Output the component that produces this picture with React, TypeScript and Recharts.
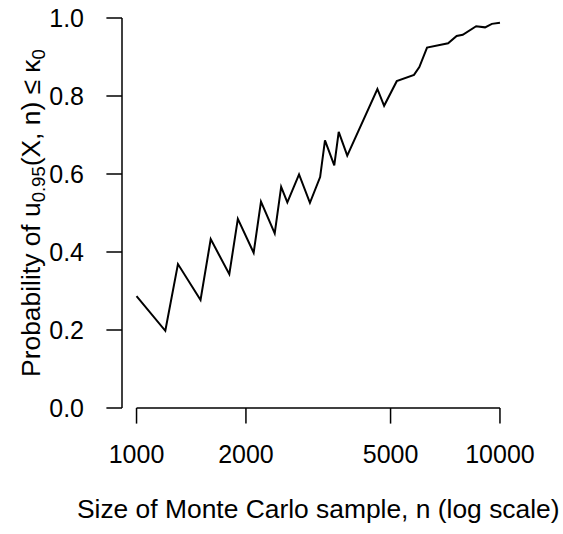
import React from "react";
import {
  LineChart,
  Line,
  XAxis,
  YAxis,
  ReferenceLine,
  Label,
} from "recharts";

// values (vertices of the curve)
const sampleSizes = [
  1000, 1200, 1300, 1500, 1600, 1800, 1900, 2100, 2200, 2400, 2500, 2600,
  2800, 3000, 3200, 3300, 3500, 3600, 3800, 4600, 4800, 5200, 5800, 6000,
  6300, 7200, 7600, 7900, 8600, 9100, 9500, 10000,
];
const probabilities = [
  0.287, 0.198, 0.369, 0.277, 0.433, 0.343, 0.485, 0.398, 0.529, 0.448,
  0.567, 0.527, 0.599, 0.526, 0.592, 0.686, 0.622, 0.708, 0.647, 0.818,
  0.775, 0.838, 0.854, 0.874, 0.924, 0.935, 0.954, 0.957, 0.979, 0.976,
  0.985, 0.988,
];
const xTicks = [1000, 2000, 5000, 10000];
const yTicks = [0, 0.2, 0.4, 0.6, 0.8, 1.0];

const data = sampleSizes.map((n, i) => ({ n, p: probabilities[i] }));

const FONT = "'Liberation Sans', Arial, Helvetica, sans-serif";
const tickStyle = { fill: "#000", fontSize: 25, fontFamily: FONT };
const LAB = 26.4;
const SUB = 18.5;

// R-style y label with subscripts
const YLabel = (props: any) => {
  const vb = props.viewBox || {};
  const cx = 40;
  const cy = vb.y + vb.height / 2;
  return (
    <text
      x={cx}
      y={cy}
      textAnchor="middle"
      fontFamily={FONT}
      fontSize={LAB}
      fill="#000"
      transform={`rotate(-90, ${cx}, ${cy})`}
    >
      Probability of u
      <tspan fontSize={SUB} dy={5}>0.95</tspan>
      <tspan fontSize={LAB} dy={-5}>(X, n) ≤ κ</tspan>
      <tspan fontSize={SUB} dy={5}>0</tspan>
    </text>
  );
};

export default function App() {
  return (
    <div style={{ position: "absolute", left: 0, top: 0, background: "#fff" }}>
      <LineChart
        width={563}
        height={534}
        data={data}
        margin={{ top: 18, right: 48.5, bottom: 0, left: 0 }}
      >
        <XAxis
          dataKey="n"
          type="number"
          scale="log"
          domain={[912.01, 10964.78]}
          allowDataOverflow
          ticks={xTicks}
          height={126}
          axisLine={false}
          tickSize={15.6}
          tickMargin={21.4}
          tickLine={{ stroke: "#000", strokeWidth: 1.5 }}
          tick={tickStyle}
        >
          <Label
            value="Size of Monte Carlo sample, n (log scale)"
            position="insideBottom"
            offset={16}
            style={{ fill: "#000", fontSize: LAB, fontFamily: FONT }}
          />
        </XAxis>
        <YAxis
          type="number"
          domain={[0, 1]}
          ticks={yTicks}
          width={122}
          tickFormatter={(v: number) => v.toFixed(1)}
          axisLine={{ stroke: "#000", strokeWidth: 1.5 }}
          tickSize={15.6}
          tickMargin={22.4}
          tickLine={{ stroke: "#000", strokeWidth: 1.5 }}
          tick={tickStyle}
        >
          <Label content={<YLabel />} />
        </YAxis>
        <ReferenceLine
          segment={[
            { x: 1000, y: 0 },
            { x: 10000, y: 0 },
          ]}
          stroke="#000"
          strokeWidth={1.5}
          ifOverflow="visible"
        />
        <Line
          type="linear"
          dataKey="p"
          stroke="#000"
          strokeWidth={2}
          dot={false}
          isAnimationActive={false}
        />
      </LineChart>
    </div>
  );
}
